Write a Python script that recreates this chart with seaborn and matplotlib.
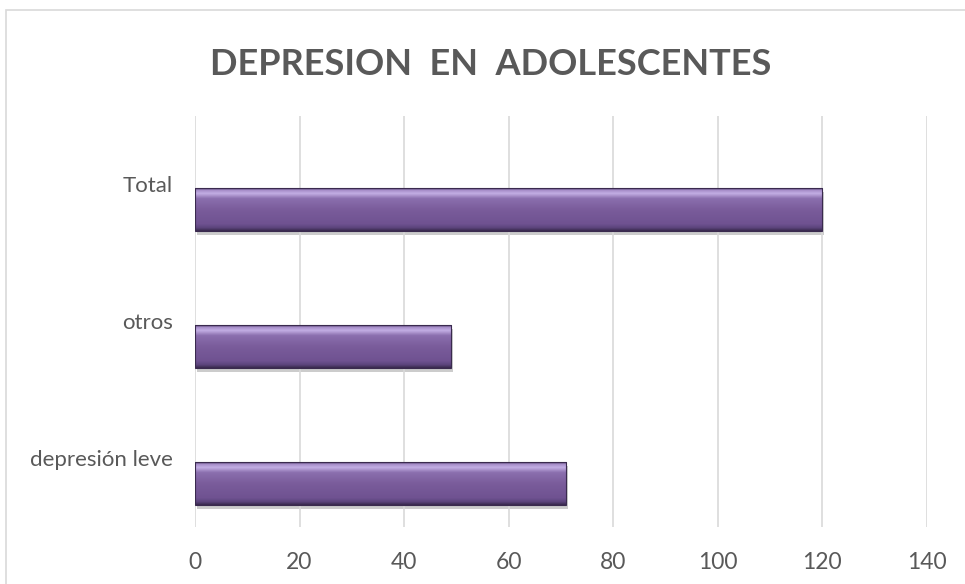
import numpy as np
import pandas as pd
import seaborn as sns
import matplotlib.pyplot as plt
from matplotlib.colors import LinearSegmentedColormap
from matplotlib.patches import Rectangle
import matplotlib.transforms as mtransforms

# Datos
categorias = ['Total', 'otros', 'depresión leve']
valores = [120, 49, 71]
vacio = [0, 0, 0]  # serie vacia (como en el Excel original)
ticks_x = [0, 20, 40, 60, 80, 100, 120, 140]
titulo = 'DEPRESION  EN  ADOLESCENTES'

df = pd.DataFrame({
    'categoria': categorias * 2,
    'serie': ['s1'] * len(categorias) + ['s2'] * len(categorias),
    'valor': vacio + valores,
})

sns.set_style('white')
plt.rcParams['font.family'] = ['Lato', 'DejaVu Sans']
gris_texto = '#595959'

fig = plt.figure(figsize=(9.65, 5.84), dpi=100)
ax = fig.add_axes([0.2021, 0.0976, 0.7582, 0.7038])

sns.barplot(data=df, x='valor', y='categoria', hue='serie', hue_order=['s1', 's2'],
            orient='h', width=0.73, gap=0.15, errorbar=None,
            palette=['#7a5c9b', '#7a5c9b'], legend=False, ax=ax)

ax.set_xlim(0, 140)
ax.set_xticks(ticks_x)
ylim = ax.get_ylim()

# degradado tipo bisel para cada barra
grad = LinearSegmentedColormap.from_list('bisel', [
    (0.00, '#45335c'), (0.04, '#a48bc6'), (0.12, '#c3aee4'), (0.24, '#8b6fae'),
    (0.50, '#7a5c9b'), (0.84, '#6f5291'), (0.93, '#5b447c'), (1.00, '#3a2a4e')])
g = np.linspace(0, 1, 100).reshape(-1, 1)
for p in list(ax.patches):
    if p.get_width() <= 0:
        p.set_visible(False)
        continue
    x0, y0, w, h = p.get_x(), p.get_y(), p.get_width(), p.get_height()
    p.set_edgecolor('#3a2a4e')
    p.set_linewidth(0.8)
    # sombra
    sombra = Rectangle((x0, y0), w, h, facecolor='#000000', alpha=0.2, lw=0,
                       transform=mtransforms.offset_copy(ax.transData, fig=fig, x=2, y=-4, units='dots'),
                       zorder=p.get_zorder() - 0.5)
    ax.add_patch(sombra)
    im = ax.imshow(g, cmap=grad, aspect='auto', origin='upper',
                   extent=(x0, x0 + w, y0 + h, y0), zorder=p.get_zorder() + 0.1)
    im.set_clip_path(p)
    p.set_zorder(p.get_zorder() + 0.2)
    p.set_facecolor('none')

ax.set_xlim(0, 140)
ax.set_ylim(ylim)

ax.grid(axis='x', color='#d9d9d9', linewidth=1.2)
ax.grid(axis='y', visible=False)
ax.set_axisbelow(True)
for s in ax.spines.values():
    s.set_visible(False)
ax.set_xlabel('')
ax.set_ylabel('')
ax.tick_params(axis='x', length=0, pad=18, labelsize=16.5, labelcolor=gris_texto)
ax.tick_params(axis='y', length=0, pad=16, labelsize=16, labelcolor=gris_texto)

fig.text(0.508, 0.889, titulo, ha='center', va='center', fontsize=26,
         fontweight='bold', color=gris_texto)

# borde del grafico
fig.patches.append(Rectangle((6 / 965, -0.1), 1.2, 1.1 - 10 / 584, transform=fig.transFigure,
                             fill=False, edgecolor='#d9d9d9', linewidth=1.2))

plt.savefig('out.png', dpi=100)
plt.close()
